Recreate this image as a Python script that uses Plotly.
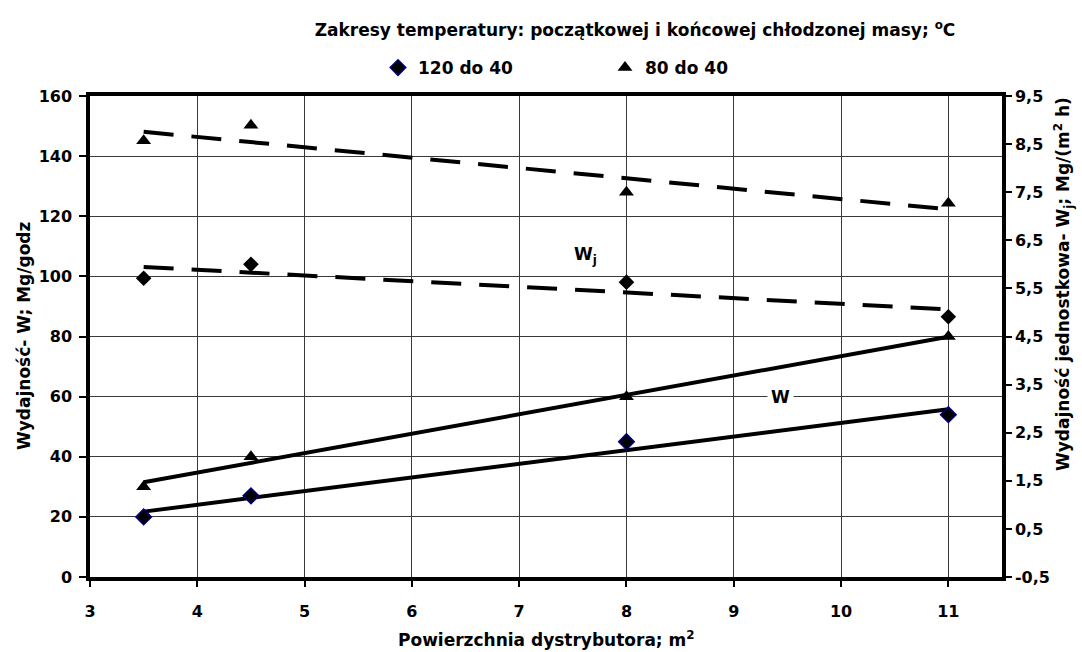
import numpy as np
import plotly.graph_objects as go

# ---- data ----
area = [3.5, 4.5, 8, 11]                      # Powierzchnia dystrybutora, m2
W_120_40 = [20, 27, 45, 54]                   # Wydajność W, Mg/godz (120 do 40)
W_80_40 = [30, 40, 60, 80]                    # Wydajność W, Mg/godz (80 do 40)
Wj_120_40 = [5.71, 6.00, 5.63, 4.91]          # Wydajność jednostkowa Wj (120 do 40)
Wj_80_40 = [8.57, 8.89, 7.50, 7.27]           # Wydajność jednostkowa Wj (80 do 40)
series_names = ["120 do 40", "80 do 40"]

x_ticks = [3, 4, 5, 6, 7, 8, 9, 10, 11]
y_left_ticks = [0, 20, 40, 60, 80, 100, 120, 140, 160]
y_right_ticks = [-0.5, 0.5, 1.5, 2.5, 3.5, 4.5, 5.5, 6.5, 7.5, 8.5, 9.5]
y_right_labels = ["-0,5", "0,5", "1,5", "2,5", "3,5", "4,5", "5,5", "6,5", "7,5", "8,5", "9,5"]

FONT = "DejaVu Sans, Liberation Sans, sans-serif"
NAVY = "#000080"
GRID = "#3a3a3a"

# plot area in pixels (for placing paper-referenced texts)
L, R, T, B = 90, 1002, 96, 577


def trend(xs, ys):
    k, b = np.polyfit(xs, ys, 1)
    xe = [min(xs), max(xs)]
    return xe, [k * v + b for v in xe]


def bold(size):
    return dict(family=FONT, size=size, color="black", weight="bold")


fig = go.Figure()

# trend lines (W solid, left axis; Wj dashed, right axis)
for ys, axis, dash in [(W_120_40, "y", "solid"), (W_80_40, "y", "solid"),
                       (Wj_120_40, "y2", "30px,18px"), (Wj_80_40, "y2", "30px,18px")]:
    xe, ye = trend(area, ys)
    fig.add_trace(go.Scatter(x=xe, y=ye, mode="lines", yaxis=axis, showlegend=False,
                             line=dict(color="black", width=4, dash=dash), hoverinfo="skip"))

# markers
fig.add_trace(go.Scatter(x=area, y=W_120_40, mode="markers", name=series_names[0], yaxis="y",
                         marker=dict(symbol="diamond", size=12, color="black",
                                     line=dict(color=NAVY, width=1.5))))
fig.add_trace(go.Scatter(x=area, y=W_80_40, mode="markers", name=series_names[1], yaxis="y",
                         marker=dict(symbol="triangle-up", size=13, color="black",
                                     line=dict(color="black", width=0))))
fig.add_trace(go.Scatter(x=area, y=Wj_120_40, mode="markers", showlegend=False, yaxis="y2",
                         marker=dict(symbol="diamond", size=12, color="black",
                                     line=dict(color="black", width=0))))
fig.add_trace(go.Scatter(x=area, y=Wj_80_40, mode="markers", showlegend=False, yaxis="y2",
                         marker=dict(symbol="triangle-up", size=13, color="black",
                                     line=dict(color="black", width=0))))

tickfont = bold(16)

fig.update_layout(
    width=1082, height=652,
    margin=dict(l=L, r=1082 - R, t=T, b=652 - B),
    paper_bgcolor="white", plot_bgcolor="white",
    font=dict(family=FONT, color="black"),
    title=dict(text="Zakresy temperatury: początkowej i końcowej chłodzonej masy; <sup>o</sup>C",
               x=635 / 1082, xanchor="center", xref="container",
               y=1 - 30 / 652, yanchor="middle", yref="container",
               font=bold(17)),
    legend=dict(orientation="h", x=(378 - L) / (R - L), xanchor="left",
                y=(B - 68) / (B - T), yanchor="middle",
                font=bold(17), entrywidth=182, itemwidth=30, bgcolor="rgba(0,0,0,0)"),
    xaxis=dict(range=[3, 11.5], tickvals=x_ticks, showgrid=True, gridcolor=GRID, gridwidth=1,
               showline=True, linecolor="black", linewidth=3.5, mirror=True,
               ticks="outside", ticklen=6, tickcolor="black", tickwidth=1.5,
               tickfont=tickfont, ticklabelstandoff=11, zeroline=False),
    yaxis=dict(range=[0, 160], tickvals=y_left_ticks, showgrid=True, gridcolor=GRID, gridwidth=1,
               showline=True, linecolor="black", linewidth=3.5,
               ticks="outside", ticklen=7, tickcolor="black", tickwidth=1.5,
               tickfont=tickfont, ticklabelstandoff=4, zeroline=False),
    yaxis2=dict(range=[-0.5, 9.5], overlaying="y", side="right", tickvals=y_right_ticks,
                ticktext=y_right_labels, showgrid=False, zeroline=False,
                showline=True, linecolor="black", linewidth=3.5,
                ticks="outside", ticklen=6, tickcolor="black", tickwidth=1.5,
                tickfont=tickfont),
    yaxis3=dict(range=[-0.5, 9.5], overlaying="y", side="right", tickvals=y_right_ticks,
                showticklabels=False, showgrid=False, zeroline=False, showline=False,
                ticks="inside", ticklen=8, tickcolor="black", tickwidth=1.5),
    annotations=[
        # axis titles
        dict(x=(546 - L) / (R - L), y=-(639 - B) / (B - T), xref="paper", yref="paper",
             text="Powierzchnia dystrybutora; m<sup>2</sup>", showarrow=False,
             xanchor="center", yanchor="middle", font=bold(17)),
        dict(x=-(L - 24) / (R - L), y=(B - 336) / (B - T), xref="paper", yref="paper",
             text="Wydajność- W; Mg/godz", showarrow=False, textangle=-90,
             xanchor="center", yanchor="middle", font=bold(17)),
        dict(x=1 + (1063 - R) / (R - L), y=(B - 284) / (B - T), xref="paper", yref="paper",
             text="Wydajność jednostkowa- W<sub>j</sub>; Mg/(m<sup>2</sup> h)", showarrow=False,
             textangle=-90, xanchor="center", yanchor="middle", font=bold(17)),
        # curve labels
        dict(x=9.44, y=60, xref="x", yref="y", text="W", showarrow=False,
             bgcolor="white", borderpad=3, font=bold(17)),
        dict(x=7.62, y=107, xref="x", yref="y", text="W<sub>j</sub>", showarrow=False,
             font=bold(17)),
    ],
)

fig.write_html("out.html")
